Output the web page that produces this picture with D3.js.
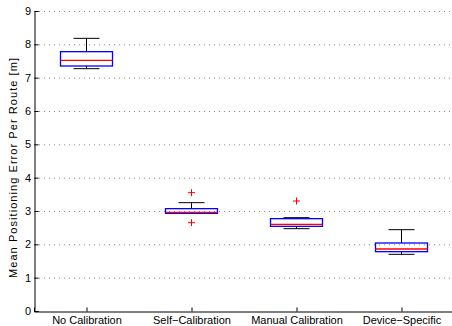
<!DOCTYPE html>
<html>
<head>
<meta charset="utf-8">
<style>
  body { margin: 0; background: #fff; }
  text { font-family: "Liberation Sans", Arial, sans-serif; }
</style>
<script src="https://d3js.org/d3.v7.min.js"></script>
</head>
<body>
<svg width="452" height="326"></svg>
<script>
// data
var categories = ["No Calibration", "Self\u2212Calibration", "Manual Calibration", "Device\u2212Specific"];
var lowerWhisker = [7.27, 2.93, 2.47, 1.70];
var q1 = [7.35, 2.93, 2.54, 1.78];
var median = [7.52, 2.96, 2.60, 1.86];
var q3 = [7.78, 3.07, 2.77, 2.04];
var upperWhisker = [8.18, 3.25, 2.80, 2.44];
var outliers = [[], [3.55, 2.65], [3.30], []];
var yTicks = [0, 1, 2, 3, 4, 5, 6, 7, 8, 9];

var svg = d3.select("svg");

var x = d3.scaleLinear().domain([0.5, 4.5]).range([34, 454]);
var y = d3.scaleLinear().domain([0, 9]).range([311, 11]);

var boxW = 52, capW = 26, fs = 11;

// grid
svg.append("g").selectAll("line")
  .data(yTicks.filter(function(d){ return d > 0; }))
  .enter().append("line")
  .attr("x1", 34).attr("x2", 452)
  .attr("y1", function(d){ return y(d) + 0.5; })
  .attr("y2", function(d){ return y(d) + 0.5; })
  .attr("stroke", "#888")
  .attr("stroke-width", 1)
  .attr("stroke-dasharray", "1,4");

// axes
var yAxis = svg.append("g")
  .attr("transform", "translate(34.5,0)")
  .call(d3.axisLeft(y).tickValues(yTicks).tickSize(-4).tickPadding(3.5));
yAxis.select(".domain").attr("stroke", "#000");
yAxis.selectAll(".tick line").attr("stroke", "#000");
yAxis.selectAll("text").attr("font-size", fs).attr("fill", "#000")
  .attr("font-family", "Liberation Sans, Arial, sans-serif");

var xAxis = svg.append("g")
  .attr("transform", "translate(0,311.5)")
  .call(d3.axisBottom(x).tickValues([1, 2, 3, 4]).tickSize(-4).tickPadding(4.5)
    .tickFormat(function(d){ return categories[d - 1]; }));
xAxis.select(".domain").attr("stroke", "#000");
xAxis.selectAll("text").attr("font-size", fs).attr("fill", "#000")
  .attr("font-family", "Liberation Sans, Arial, sans-serif");
xAxis.selectAll(".tick line").attr("stroke", "#000");

svg.append("text")
  .attr("transform", "translate(17,168) rotate(-90)")
  .attr("text-anchor", "middle")
  .attr("font-size", fs)
  .attr("textLength", 220)
  .attr("lengthAdjust", "spacing")
  .text("Mean Positioning Error Per Route [m]");

// boxes
var g = svg.append("g");
categories.forEach(function(c, i){
  var cx = x(i + 1);
  // whiskers
  g.append("line").attr("x1", cx).attr("x2", cx)
    .attr("y1", y(upperWhisker[i])).attr("y2", y(q3[i]))
    .attr("stroke", "#000").attr("stroke-width", 1);
  g.append("line").attr("x1", cx).attr("x2", cx)
    .attr("y1", y(q1[i])).attr("y2", y(lowerWhisker[i]))
    .attr("stroke", "#000").attr("stroke-width", 1);
  g.append("line").attr("x1", cx - capW / 2).attr("x2", cx + capW / 2)
    .attr("y1", y(upperWhisker[i])).attr("y2", y(upperWhisker[i]))
    .attr("stroke", "#000").attr("stroke-width", 1);
  g.append("line").attr("x1", cx - capW / 2).attr("x2", cx + capW / 2)
    .attr("y1", y(lowerWhisker[i])).attr("y2", y(lowerWhisker[i]))
    .attr("stroke", "#000").attr("stroke-width", 1);
  // box
  g.append("rect")
    .attr("x", cx - boxW / 2).attr("y", y(q3[i]))
    .attr("width", boxW).attr("height", y(q1[i]) - y(q3[i]))
    .attr("fill", "none").attr("stroke", "#0000ff").attr("stroke-width", 1.3);
  g.append("line").attr("x1", cx - boxW / 2).attr("x2", cx + boxW / 2)
    .attr("y1", y(median[i])).attr("y2", y(median[i]))
    .attr("stroke", "#ff0000").attr("stroke-width", 1.3);
  // outliers
  outliers[i].forEach(function(v){
    g.append("path")
      .attr("d", "M" + (cx - 3.5) + "," + y(v) + "h7M" + cx + "," + (y(v) - 3.5) + "v7")
      .attr("stroke", "#ff0000").attr("stroke-width", 1);
  });
});
</script>
</body>
</html>
